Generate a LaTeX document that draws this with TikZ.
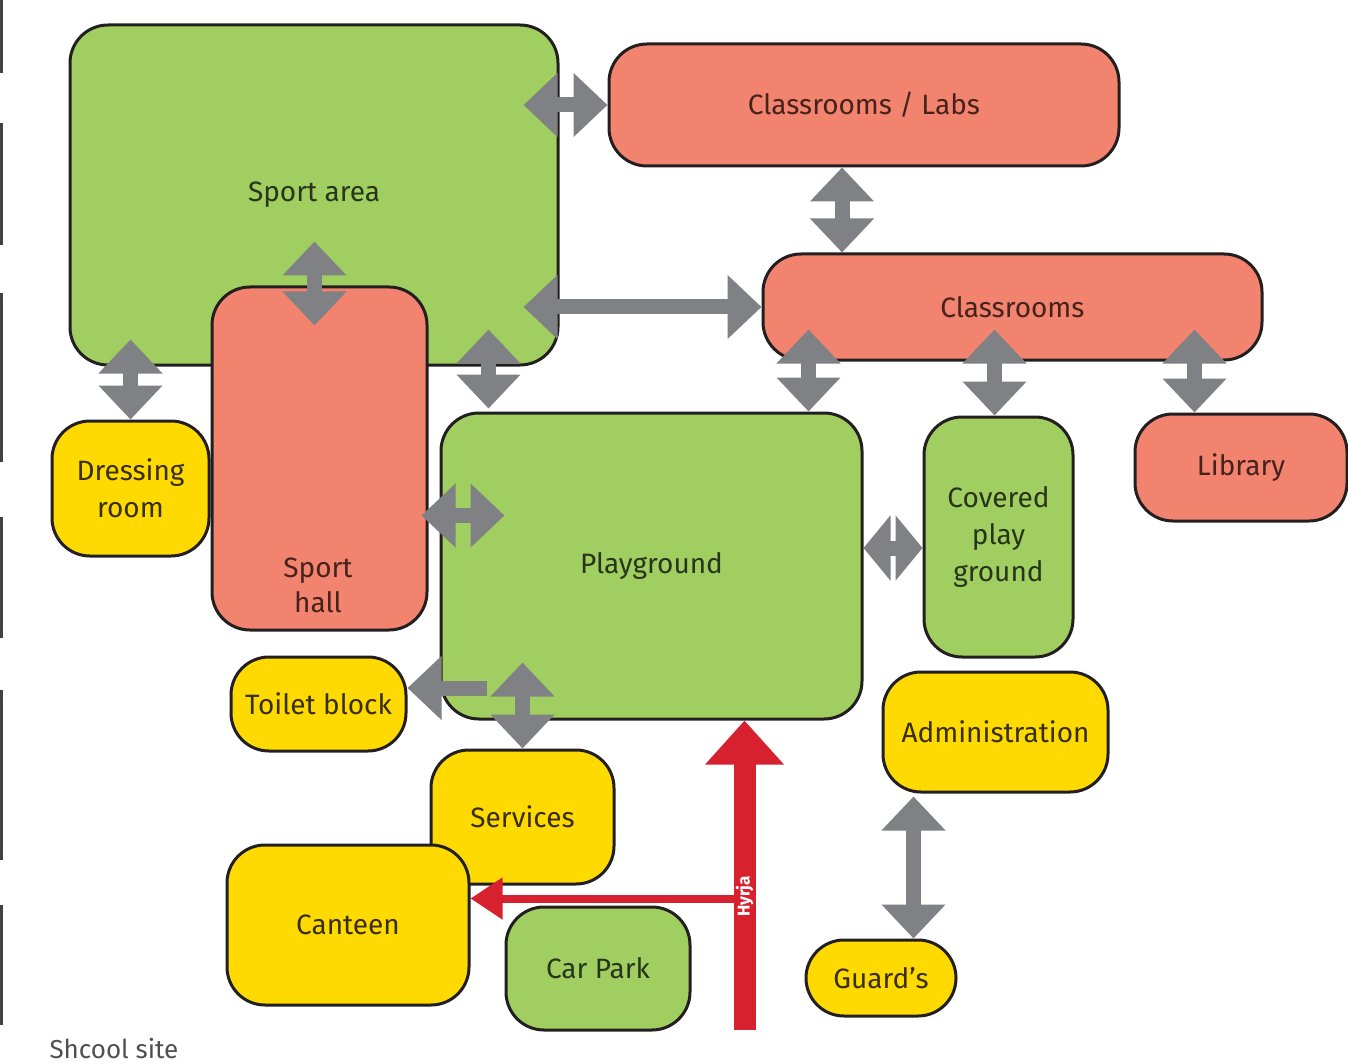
\documentclass[tikz,border=0pt]{standalone}
\usepackage{fontspec}
\setmainfont{Fira Sans}
\usetikzlibrary{arrows.meta,calc}
\definecolor{fgreen}{HTML}{A1CE60}
\definecolor{fsalmon}{HTML}{F2836F}
\definecolor{fyellow}{HTML}{FFDA00}
\definecolor{agray}{HTML}{808184}
\definecolor{ared}{HTML}{D7212E}
\definecolor{bdr}{HTML}{231F20}
\definecolor{tg}{HTML}{27351A}
\definecolor{tr}{HTML}{45221C}
\definecolor{ty}{HTML}{382E0C}
\definecolor{capgray}{HTML}{505050}
\begin{document}
\begin{tikzpicture}[x=1pt,y=-1pt,
  box/.style={draw=bdr, line width=3pt, rounded corners=38pt, inner sep=0pt, align=center,
    font=\fontsize{28}{37}\selectfont},
  gbox/.style={box, fill=fgreen, text=tg},
  rbox/.style={box, fill=fsalmon, text=tr},
  ybox/.style={box, fill=fyellow, text=ty},
  garrow/.style={agray, line width=15pt,
    arrows={Triangle[width=62pt,length=34pt]-Triangle[width=62pt,length=34pt]}},
  garrowshort/.style={agray, line width=15pt,
    arrows={Triangle[width=64pt,length=27pt]-Triangle[width=64pt,length=27pt]}},
  garrowone/.style={agray, line width=15pt, arrows={-Triangle[width=62pt,length=34pt]}},
  rarrow/.style={ared, line width=22pt, arrows={-Triangle[width=76pt,length=44pt]}},
  rarrowsmall/.style={ared, line width=8pt, arrows={-Triangle[width=40pt,length=32pt]}},
  edgeline/.style={draw=bdr!85, line width=3pt}
]
\useasboundingbox (0,0) rectangle (1348,1064);
\fill[white] (0,0) rectangle (1348,1064);

% page-edge marks
\foreach \a/\b in {0/73,123/245,293/462,517/638,690/860,905/1025}
  \draw[edgeline] (1.5,\a) -- (1.5,\b);

% boxes
\node[gbox, minimum width=488pt, minimum height=340pt] (sport) at (314,195) {Sport area};
\node[rbox, minimum width=215pt, minimum height=343pt] (hall) at (319.5,458.5) {};
\node[rbox, minimum width=510pt, minimum height=122pt] (clabs) at (864,105) {Classrooms / Labs};
\node[rbox, minimum width=499pt, minimum height=106pt] (croom) at (1012.5,307) {Classrooms};
\node[rbox, minimum width=212pt, minimum height=107pt] (lib) at (1241,467.5) {Library};
\node[ybox, minimum width=157pt, minimum height=135pt] (dress) at (130.5,488.5) {Dressing\\room};
\node[gbox, minimum width=421pt, minimum height=306pt] (play) at (651.5,566) {Playground};
\node[gbox, minimum width=149pt, minimum height=240pt] (cover) at (998.5,537) {Covered\\play\\ground};
\node[ybox, minimum width=175pt, minimum height=94pt] (toilet) at (318.5,704) {Toilet block};
\node[ybox, minimum width=225pt, minimum height=120pt] (admin) at (995.5,732) {Administration};
\node[ybox, minimum width=183pt, minimum height=134pt] (serv) at (522.5,817) {Services};
\node[ybox, minimum width=242pt, minimum height=160pt] (cant) at (348,925) {Canteen};
\node[gbox, minimum width=184pt, minimum height=123pt] (car) at (598,968.5) {Car Park};
\node[ybox, minimum width=150pt, minimum height=76pt] (guard) at (881,978) {Guard’s};
\node[align=center, text=tr, font=\fontsize{28}{35}\selectfont] (halltxt) at (318,585) {Sport\\hall};
\node[anchor=west, text=capgray, font=\fontsize{26}{26}\selectfont] (site) at (46,1049) {Shcool site};

% grey connectors
\coordinate (p1) at ($(sport.east |- clabs.west)+(-36,0)$);
\draw[garrow] (p1) -- (clabs.west);
\coordinate (p2) at ($(clabs.south)+(-22,0)$);
\draw[garrow] (p2) -- (p2 |- croom.north);
\coordinate (p3) at ($(sport.east |- croom.west)+(-36,0)$);
\draw[garrow] (p3) -- (croom.west);
\coordinate (p4a) at ($(hall.north)+(-5,-44)$);
\coordinate (p4b) at ($(hall.north)+(-5,40)$);
\draw[garrow] (p4a) -- (p4b);
\coordinate (p5q) at (dress.north |- sport.south);
\coordinate (p5) at ($(p5q)+(0,-27)$);
\draw[garrow] (p5) -- (dress.north);
\coordinate (p6) at ($(play.north west)+(49,-3)$);
\coordinate (p6q) at (p6 |- sport.south);
\coordinate (p6s) at ($(p6q)+(0,-37)$);
\draw[garrow] (p6s) -- (p6);
\coordinate (c7) at ($(croom.south west)+(47,-32)$);
\coordinate (c8) at ($(croom.south west)+(233,-32)$);
\coordinate (c9) at ($(croom.south west)+(433,-32)$);
\draw[garrow] (c7) -- (c7 |- play.north);
\draw[garrow] (c8) -- (c8 |- cover.north);
\draw[garrow] (c9) -- (c9 |- lib.north);
\coordinate (c10a) at ($(hall.east)+(-7,57)$);
\coordinate (c10b) at ($(c10a)+(83,0)$);
\draw[garrow] (c10a) -- (c10b);
\coordinate (c11) at ($(play.east)+(0,-18)$);
\draw[garrowshort] (c11) -- (c11 -| cover.west);
\coordinate (c12) at ($(toilet.east)+(0,-16)$);
\coordinate (c12s) at ($(c12)+(79,0)$);
\draw[garrowone] (c12s) -- (c12);
\coordinate (c13) at ($(serv.north)+(0,-86)$);
\draw[garrow] (c13) -- (serv.north);
\coordinate (c14) at ($(admin.south west)+(32,3)$);
\draw[garrow] (c14) -- (c14 |- guard.north);

% entrance
\coordinate (rtail) at ($(play.south west)+(305,309)$);
\coordinate (rj) at ($(rtail)+(0,-131)$);
\draw[rarrowsmall] (rj) -- (rj -| cant.east);
\draw[rarrow] (rtail) -- (rtail |- play.south);
\node[rotate=90, text=white, font=\bfseries\fontsize{17}{17}\selectfont] (hyrja) at ($(rtail)+(0,-133)$) {Hyrja};
\end{tikzpicture}
\end{document}
